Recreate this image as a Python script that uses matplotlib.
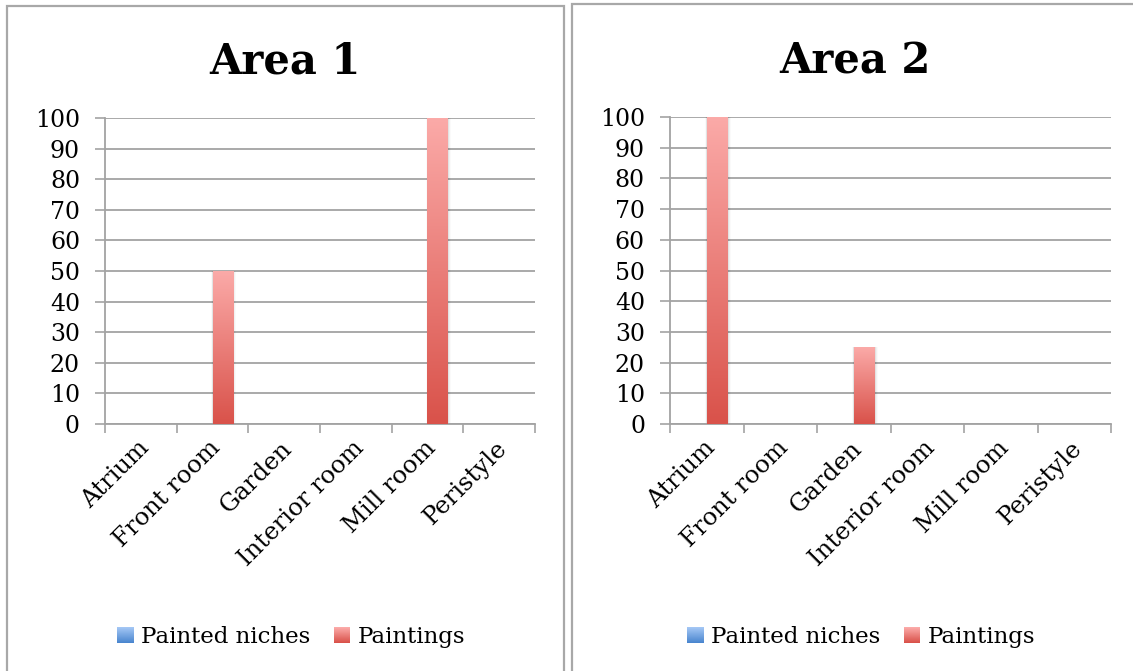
import matplotlib
matplotlib.use("Agg")
import matplotlib.pyplot as plt
import numpy as np
from matplotlib.patches import Rectangle
from matplotlib.legend_handler import HandlerBase
from matplotlib.colors import to_rgb

# ---- data ----
categories = ["Atrium", "Front room", "Garden", "Interior room", "Mill room", "Peristyle"]
series_names = ["Painted niches", "Paintings"]
area_titles = ["Area 1", "Area 2"]
area1_niches = [0, 0, 0, 0, 0, 0]
area1_paintings = [0, 50, 0, 0, 100, 0]
area2_niches = [0, 0, 0, 0, 0, 0]
area2_paintings = [100, 0, 25, 0, 0, 0]
y_ticks = [0, 10, 20, 30, 40, 50, 60, 70, 80, 90, 100]

# ---- style ----
FONT = "DejaVu Serif"
GRID = "#a3a3a3"
BORDER = "#a8a8a8"
RED_TOP, RED_BOT = "#fbaaa8", "#d9524a"
BLUE_TOP, BLUE_BOT = "#a3c6f4", "#4a86cf"

W, H = 1133, 671
fig = plt.figure(figsize=(W / 100, H / 100), dpi=100)


def fx(px):
    return px / W


def fy(py):
    return 1 - py / H


def grad_colors(top, bot, n):
    t = np.linspace(0, 1, n)[:, None]
    return np.array(to_rgb(top)) * (1 - t) + np.array(to_rgb(bot)) * t


class GradientHandler(HandlerBase):
    def __init__(self, top, bot):
        super().__init__()
        self.top, self.bot = top, bot

    def create_artists(self, legend, orig_handle, xdescent, ydescent,
                       width, height, fontsize, trans):
        size = height
        x0 = -xdescent + width - size
        y0 = -ydescent + (height - size) / 2
        n = 16
        cols = grad_colors(self.top, self.bot, n)
        arts = []
        for i in range(n):
            r = Rectangle((x0, y0 + size * (n - 1 - i) / n), size, size / n + 0.05,
                          facecolor=cols[i], edgecolor="none", transform=trans)
            arts.append(r)
        return arts


def gradient_bar(ax, x0, width, height, top, bot):
    if height <= 0:
        return
    # soft shadow along the sides
    for k, a in enumerate([0.06, 0.035, 0.02]):
        d = 0.012 * (k + 1)
        ax.add_patch(Rectangle((x0 - d * 0.5, 0), width + d * 1.6, height,
                               facecolor="black", alpha=a, edgecolor="none", zorder=2))
    img = grad_colors(top, bot, 256)[:, None, :]
    ax.imshow(img, extent=(x0, x0 + width, 0, height), aspect="auto",
              interpolation="bilinear", zorder=3)


panels = [
    dict(title=area_titles[0], niches=area1_niches, paint=area1_paintings,
         box=(7, 6, 564, 700), axes=(105, 118, 535, 424), title_x=285, leg_x=291),
    dict(title=area_titles[1], niches=area2_niches, paint=area2_paintings,
         box=(572, 4, 1140, 700), axes=(670, 117, 1111, 424), title_x=855, leg_x=861),
]

n = len(categories)
gap = 1.5
bw = 1 / (2 + gap)

for p in panels:
    bx0, by0, bx1, by1 = p["box"]
    fig.patches.append(Rectangle((fx(bx0), fy(by1)), fx(bx1 - bx0), (by1 - by0) / H,
                                 transform=fig.transFigure, facecolor="none",
                                 edgecolor=BORDER, linewidth=1.6, zorder=-1))
    ax0, ay0, ax1, ay1 = p["axes"]
    ax = fig.add_axes([fx(ax0), fy(ay1), fx(ax1 - ax0), (ay1 - ay0) / H])
    ax.set_facecolor("none")

    centers = np.arange(n) + 0.5
    for i in range(n):
        gradient_bar(ax, centers[i] - bw, bw, p["niches"][i], BLUE_TOP, BLUE_BOT)
        gradient_bar(ax, centers[i], bw, p["paint"][i], RED_TOP, RED_BOT)

    ax.set_xlim(0, n)
    ax.set_ylim(0, 100)
    ax.set_yticks(y_ticks)
    ax.set_yticklabels([str(v) for v in y_ticks], fontfamily=FONT, fontsize=17)
    ax.set_xticks(np.arange(n + 1))
    ax.set_xticklabels([])
    ax.set_xticks(centers - 0.05, minor=True)
    ax.set_xticklabels(categories, minor=True, rotation=45, ha="right", va="top",
                       rotation_mode="anchor", fontfamily=FONT, fontsize=17.5)
    ax.tick_params(axis="x", which="major", length=6.5, width=1.2, color=GRID)
    ax.tick_params(axis="x", which="minor", length=0, pad=9)
    ax.tick_params(axis="y", length=7, width=1.2, color=GRID, pad=11)
    ax.grid(axis="y", color=GRID, linewidth=1.3, zorder=1)
    ax.set_axisbelow(True)
    for s in ["top", "right"]:
        ax.spines[s].set_visible(False)
    for s in ["left", "bottom"]:
        ax.spines[s].set_color(GRID)
        ax.spines[s].set_linewidth(1.3)

    fig.text(fx(p["title_x"]), fy(61), p["title"], ha="center", va="center",
             fontfamily=FONT, fontweight="bold", fontsize=30)

    h1 = Rectangle((0, 0), 1, 1)
    h2 = Rectangle((0, 0), 1, 1)
    fig.legend([h1, h2], series_names, loc="center",
               bbox_to_anchor=(fx(p["leg_x"]), fy(637)), ncol=2, frameon=False,
               prop={"family": FONT, "size": 16.5},
               handler_map={h1: GradientHandler(BLUE_TOP, BLUE_BOT),
                            h2: GradientHandler(RED_TOP, RED_BOT)},
               handlelength=0.72, handleheight=0.72, handletextpad=0.3,
               columnspacing=1.05)

fig.savefig("out.png", dpi=100)
